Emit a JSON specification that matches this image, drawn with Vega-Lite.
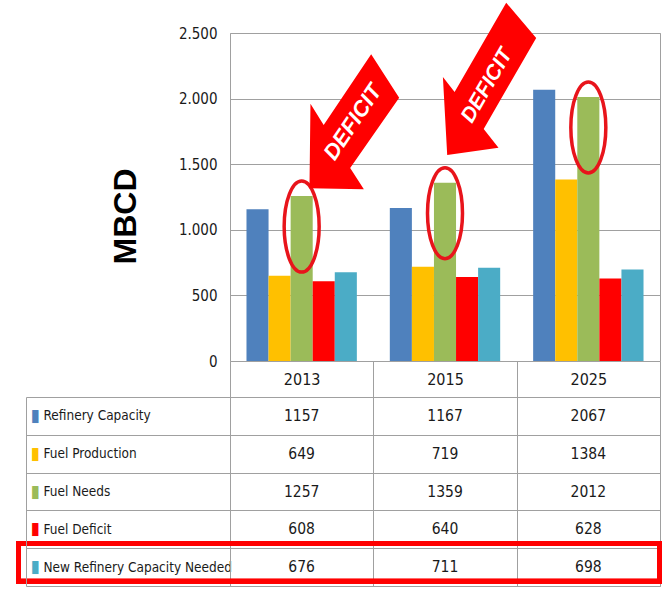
{
  "$schema": "https://vega.github.io/schema/vega-lite/v6.json",
  "background": "white",
  "padding": {"left": 15, "top": 2, "right": 3, "bottom": 1},
  "datasets": {
    "main": [
      {"year": "2013", "series": "Refinery Capacity", "value": 1157},
      {"year": "2015", "series": "Refinery Capacity", "value": 1167},
      {"year": "2025", "series": "Refinery Capacity", "value": 2067},
      {"year": "2013", "series": "Fuel Production", "value": 649},
      {"year": "2015", "series": "Fuel Production", "value": 719},
      {"year": "2025", "series": "Fuel Production", "value": 1384},
      {"year": "2013", "series": "Fuel Needs", "value": 1257},
      {"year": "2015", "series": "Fuel Needs", "value": 1359},
      {"year": "2025", "series": "Fuel Needs", "value": 2012},
      {"year": "2013", "series": "Fuel Deficit", "value": 608},
      {"year": "2015", "series": "Fuel Deficit", "value": 640},
      {"year": "2025", "series": "Fuel Deficit", "value": 628},
      {"year": "2013", "series": "New Refinery Capacity Needed", "value": 676},
      {"year": "2015", "series": "New Refinery Capacity Needed", "value": 711},
      {"year": "2025", "series": "New Refinery Capacity Needed", "value": 698}
    ]
  },
  "config": {
    "view": {"stroke": "#a0a0a0", "strokeWidth": 1},
    "font": "DejaVu Sans Condensed, sans-serif",
    "axis": {
      "gridColor": "#a0a0a0",
      "domainColor": "#a0a0a0",
      "tickColor": "#a0a0a0",
      "labelColor": "#1a1a1a",
      "labelFont": "DejaVu Sans Condensed, sans-serif"
    }
  },
  "spacing": 36,
  "bounds": "flush",
  "vconcat": [
    {
      "width": 430,
      "height": 328,
      "data": {"name": "main"},
      "encoding": {
        "x": {"field": "year", "type": "nominal", "axis": null, "scale": {"paddingInner": 0.23, "paddingOuter": 0.115}},
        "xOffset": {"field": "series", "type": "nominal", "scale": {"domain": ["Refinery Capacity", "Fuel Production", "Fuel Needs", "Fuel Deficit", "New Refinery Capacity Needed"], "paddingInner": 0, "paddingOuter": 0}},
        "y": {
          "field": "value",
          "type": "quantitative",
          "scale": {"domain": [0, 2500], "nice": false},
          "axis": {
            "values": [0, 500, 1000, 1500, 2000, 2500],
            "labelExpr": "replace(format(datum.value, ','), ',', '.')",
            "labelFontSize": 15,
            "labelPadding": 13,
            "ticks": false,
            "domain": false,
            "grid": true,
            "title": "MBCD",
            "titleFont": "Liberation Sans",
            "titleFontSize": 32,
            "titleFontWeight": "bold",
            "titleColor": "#000000",
            "titlePadding": 36,
            "titleY": 183
          }
        }
      },
      "layer": [
        {
          "mark": {"type": "bar"},
          "encoding": {
            "color": {
              "field": "series",
              "type": "nominal",
              "scale": {
                "domain": ["Refinery Capacity", "Fuel Production", "Fuel Needs", "Fuel Deficit", "New Refinery Capacity Needed"],
                "range": ["#4F81BD", "#FFC000", "#9BBB59", "#FF0000", "#4BACC6"]
              },
              "legend": null
            }
          }
        },
        {
          "transform": [{"filter": "datum.series === 'Fuel Needs'"}],
          "mark": {
            "type": "point",
            "shape": "M0,-15 A17.5,45.5 0 1 1 0,76 A17.5,45.5 0 1 1 0,-15 Z",
            "size": 4,
            "filled": false,
            "stroke": "#E8141B",
            "strokeWidth": 3.5,
            "opacity": 1
          }
        },
        {
          "transform": [{"filter": "datum.series === 'Fuel Needs' && datum.year === '2013'"}],
          "mark": {
            "type": "point",
            "shape": "M7.8,-7.8 L8.8,-92.4 L22,-71.1 L69.5,-141.8 L97.5,-98.4 L48.5,-28.1 L62.2,-6.8 Z",
            "size": 4,
            "filled": true,
            "fill": "#FF0000",
            "strokeWidth": 0,
            "opacity": 1
          }
        },
        {
          "transform": [{"filter": "datum.series === 'Fuel Needs' && datum.year === '2015'"}],
          "mark": {
            "type": "point",
            "shape": "M2.2,-27.7 L-2.1,-105.7 L9.6,-90.8 L61.2,-180 L91.2,-144.7 L38.7,-53.8 L53.5,-35 Z",
            "size": 4,
            "filled": true,
            "fill": "#FF0000",
            "strokeWidth": 0,
            "opacity": 1
          }
        },
        {
          "transform": [{"filter": "datum.series === 'Fuel Needs' && datum.year === '2013'"}],
          "mark": {
            "type": "text",
            "text": "DEFICIT",
            "angle": 304,
            "dx": 90,
            "dy": 1,
            "font": "Liberation Sans",
            "fontSize": 22,
            "fontWeight": "bold",
            "fontStyle": "italic",
            "color": "#ffffff",
            "align": "center",
            "baseline": "middle"
          }
        },
        {
          "transform": [{"filter": "datum.series === 'Fuel Needs' && datum.year === '2015'"}],
          "mark": {
            "type": "text",
            "text": "DEFICIT",
            "angle": 300,
            "dx": 105,
            "dy": -12,
            "font": "Liberation Sans",
            "fontSize": 21,
            "fontWeight": "bold",
            "fontStyle": "italic",
            "color": "#ffffff",
            "align": "center",
            "baseline": "middle"
          }
        }
      ]
    },
    {
      "width": 430,
      "height": 189,
      "data": {"name": "main"},
      "resolve": {"axis": {"y": "independent"}},
      "layer": [
        {
          "mark": {"type": "text", "fontSize": 15.5, "color": "#1a1a1a", "align": "center", "baseline": "middle"},
          "encoding": {
            "x": {
              "field": "year",
              "type": "nominal",
              "scale": {"paddingInner": 0, "paddingOuter": 0},
              "axis": {
                "orient": "top",
                "title": null,
                "tickBand": "extent",
                "ticks": true,
                "tickSize": 36,
                "labelPadding": -18,
                "labelBaseline": "middle",
                "labelAngle": 0,
                "labelFontSize": 16,
                "domain": false,
                "grid": true
              }
            },
            "y": {
              "field": "series",
              "type": "nominal",
              "scale": {"domain": ["Refinery Capacity", "Fuel Production", "Fuel Needs", "Fuel Deficit", "New Refinery Capacity Needed"], "paddingInner": 0, "paddingOuter": 0},
              "axis": {
                "orient": "left",
                "title": null,
                "tickBand": "extent",
                "ticks": true,
                "tickSize": 204,
                "labelPadding": -17,
                "labelAlign": "left",
                "labelBaseline": "middle",
                "labelFontSize": 13.5,
                "labelLimit": 0,
                "domain": true,
                "grid": true
              }
            },
            "text": {"field": "value", "type": "quantitative", "format": "d"}
          }
        },
        {
          "transform": [{"filter": "datum.series === 'New Refinery Capacity Needed'"}],
          "mark": {
            "type": "rect",
            "fillOpacity": 0,
            "stroke": "#FF0000",
            "strokeWidth": 5,
            "xOffset": -211.5,
            "x2Offset": -0.5,
            "yOffset": -4.7,
            "y2Offset": 2
          },
          "encoding": {
            "x": {"value": 0},
            "x2": {"value": "width"},
            "y": {
              "field": "series",
              "type": "nominal",
              "scale": {"domain": ["Refinery Capacity", "Fuel Production", "Fuel Needs", "Fuel Deficit", "New Refinery Capacity Needed"]},
              "axis": {
                "orient": "left",
                "offset": 204,
                "title": null,
                "ticks": false,
                "tickSize": 0,
                "labelPadding": -4,
                "labelAlign": "left",
                "labelBaseline": "middle",
                "labelExpr": "'▮'",
                "labelFont": "DejaVu Sans",
                "labelFontSize": 17,
                "labelColor": {"expr": "datum.value === 'Refinery Capacity' ? '#4F81BD' : datum.value === 'Fuel Production' ? '#FFC000' : datum.value === 'Fuel Needs' ? '#9BBB59' : datum.value === 'Fuel Deficit' ? '#FF0000' : '#4BACC6'"},
                "domain": true,
                "grid": false
              }
            }
          }
        }
      ]
    }
  ]
}
